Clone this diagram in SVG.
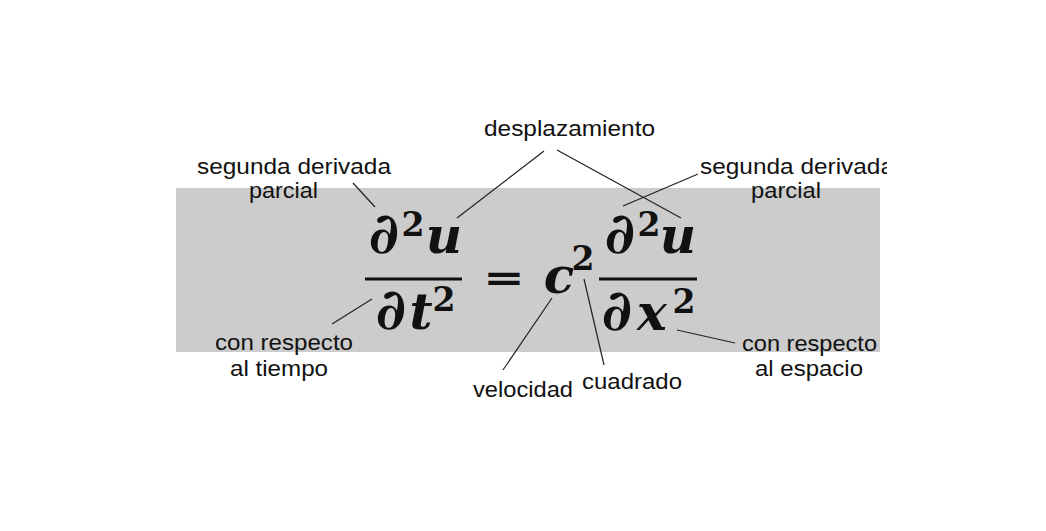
<svg xmlns="http://www.w3.org/2000/svg" width="1046" height="531" viewBox="0 0 1046 531">
<style>
.lbl{font-family:"Liberation Sans",Arial,sans-serif;font-size:22.5px;fill:#111}
.m{font-family:"DejaVu Serif",serif;font-weight:bold;font-style:italic;font-size:50px;fill:#111;text-anchor:middle}
.d{font-family:"DejaVu Serif",serif;font-weight:bold;font-size:57px;fill:#111;text-anchor:middle}
.s{font-family:"DejaVu Serif",serif;font-weight:bold;font-size:33px;fill:#111;text-anchor:middle}
.eq{font-family:"DejaVu Serif",serif;font-weight:bold;font-size:37px;fill:#111;text-anchor:middle}
.ld{stroke:#222;stroke-width:1.2;fill:none}
</style>
<defs><clipPath id="cr"><rect x="0" y="0" width="887" height="531"/></clipPath></defs>
<rect width="1046" height="531" fill="#fff"/>
<rect x="176" y="188" width="704" height="164" fill="#cccccc"/>
<g id="equation">
<text class="d" x="384" y="253">∂</text><text class="s" x="413" y="236">2</text><text class="m" x="444" y="253">u</text>
<rect x="365" y="277.5" width="97" height="3" fill="#111"/>
<text class="d" x="391" y="329">∂</text><text class="m" x="421" y="329">t</text><text class="s" x="444" y="311">2</text>
<text class="eq" transform="translate(504,291) scale(1.35,1)" x="0" y="0">=</text>
<text class="m" x="559" y="293">c</text><text class="s" x="583" y="270">2</text>
<text class="d" x="620" y="253">∂</text><text class="s" x="649" y="236">2</text><text class="m" x="678" y="253">u</text>
<rect x="599" y="277.5" width="98" height="3" fill="#111"/>
<text class="d" x="617" y="330">∂</text><text class="m" x="652" y="330">x</text><text class="s" x="684" y="313">2</text>
</g>
<g id="connectors">
<line class="ld" x1="353" y1="183" x2="375" y2="207"/>
<line class="ld" x1="544" y1="151" x2="457" y2="218"/>
<line class="ld" x1="557" y1="150" x2="681" y2="218"/>
<line class="ld" x1="623" y1="206" x2="698" y2="174"/>
<line class="ld" x1="332" y1="324" x2="372" y2="299"/>
<line class="ld" x1="503" y1="370" x2="552" y2="298"/>
<line class="ld" x1="584" y1="279" x2="604" y2="365"/>
<line class="ld" x1="677" y1="330" x2="735" y2="343"/>
</g>
<g id="lbl-desplazamiento"><text class="lbl" x="484" y="136" textLength="171" lengthAdjust="spacingAndGlyphs">desplazamiento</text></g>
<g id="lbl-segunda-izq">
<text class="lbl" x="197" y="174" textLength="194" lengthAdjust="spacingAndGlyphs">segunda derivada</text>
<text class="lbl" x="249" y="198" textLength="69" lengthAdjust="spacingAndGlyphs">parcial</text>
</g>
<g id="lbl-segunda-der" clip-path="url(#cr)">
<text class="lbl" x="700" y="174" textLength="194" lengthAdjust="spacingAndGlyphs">segunda derivada</text>
<text class="lbl" x="751" y="198" textLength="70" lengthAdjust="spacingAndGlyphs">parcial</text>
</g>
<g id="lbl-tiempo">
<text class="lbl" x="215" y="350" textLength="138" lengthAdjust="spacingAndGlyphs">con respecto</text>
<text class="lbl" x="230" y="376" textLength="98" lengthAdjust="spacingAndGlyphs">al tiempo</text>
</g>
<g id="lbl-espacio">
<text class="lbl" x="742" y="351" textLength="135" lengthAdjust="spacingAndGlyphs">con respecto</text>
<text class="lbl" x="755" y="376" textLength="108" lengthAdjust="spacingAndGlyphs">al espacio</text>
</g>
<g id="lbl-velocidad"><text class="lbl" x="473" y="397" textLength="100" lengthAdjust="spacingAndGlyphs">velocidad</text></g>
<g id="lbl-cuadrado"><text class="lbl" x="582" y="389" textLength="100" lengthAdjust="spacingAndGlyphs">cuadrado</text></g>
</svg>
